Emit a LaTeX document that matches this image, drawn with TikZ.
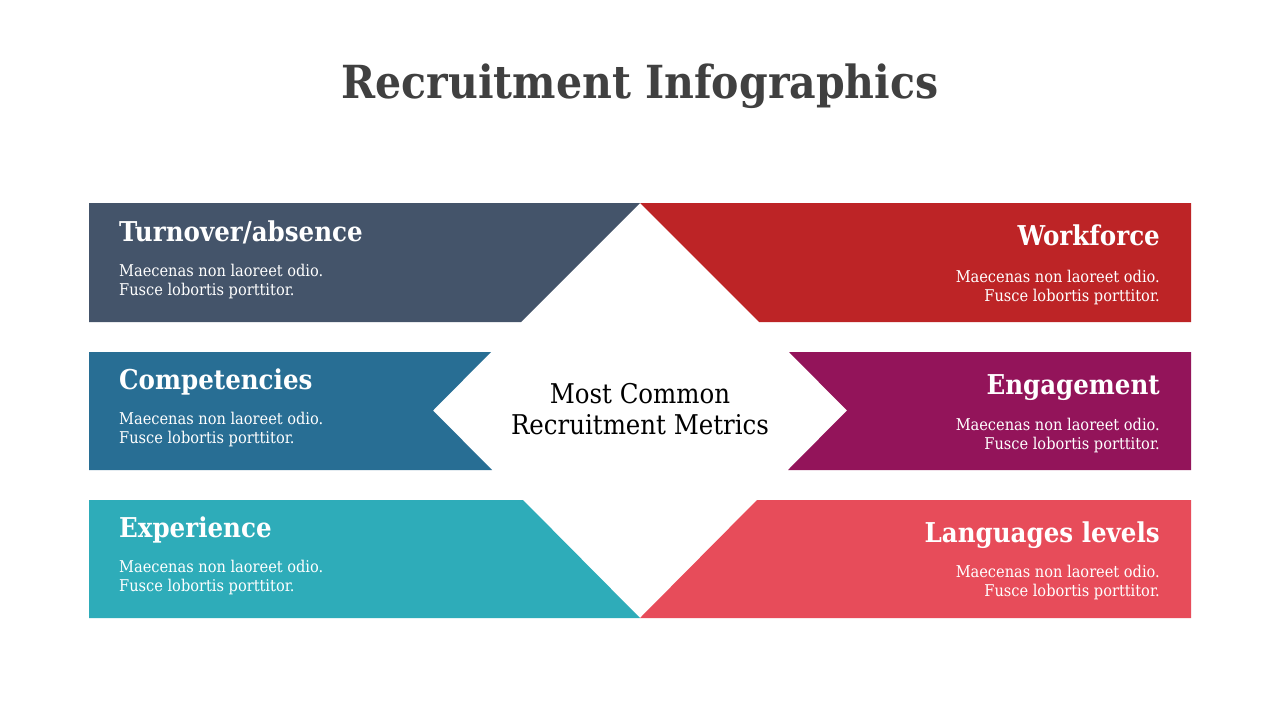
\documentclass[tikz,border=0pt]{standalone}
\usepackage{fontspec}
\setmainfont{DejaVu Serif Condensed}
\definecolor{cTL}{HTML}{44546A}
\definecolor{cTR}{HTML}{BD2426}
\definecolor{cML}{HTML}{286E94}
\definecolor{cMR}{HTML}{93145A}
\definecolor{cBL}{HTML}{2EACB9}
\definecolor{cBR}{HTML}{E74C5A}
\definecolor{ctitle}{HTML}{404040}
\begin{document}
\begin{tikzpicture}[x=1pt,y=-1pt,
  headL/.style={anchor=base west,inner sep=0pt,text=white,font=\fontsize{27.3}{30}\selectfont\bfseries},
  headR/.style={anchor=base east,inner sep=0pt,text=white,font=\fontsize{27.3}{30}\selectfont\bfseries},
  bodyL/.style={anchor=base west,inner sep=0pt,text=white,font=\fontsize{16.2}{19}\selectfont},
  bodyR/.style={anchor=base east,inner sep=0pt,text=white,font=\fontsize{16.2}{19}\selectfont},
  center/.style={anchor=base,inner sep=0pt,font=\fontsize{27.2}{30}\selectfont}]
\useasboundingbox[fill=white] (0,0) rectangle (1280,720);
% shapes
\fill[cTL] (89,203) -- (640,203) -- (521,322) -- (89,322) -- cycle;
\fill[cTR] (640,203) -- (1191,203) -- (1191,322) -- (759,322) -- cycle;
\fill[cML] (89,352) -- (491,352) -- (433,410.5) -- (492,470) -- (89,470) -- cycle;
\fill[cMR] (789,352) -- (1191,352) -- (1191,470) -- (788,470) -- (847,410.5) -- cycle;
\fill[cBL] (89,500) -- (523,500) -- (640,618) -- (89,618) -- cycle;
\fill[cBR] (757,500) -- (1191,500) -- (1191,618) -- (640,618) -- cycle;
% title
\node[anchor=base,inner sep=0pt,text=ctitle,font=\fontsize{45.6}{50}\selectfont\bfseries] (title) at (640,98) {Recruitment Infographics};
% center
\node[center] (c1) at (640,403) {Most Common};
\node[center] (c2) at (640,434) {Recruitment Metrics};
% TL
\node[headL] (h1) at (119,241) {Turnover/absence};
\node[bodyL] (b1a) at (119,276) {Maecenas non laoreet odio.};
\node[bodyL] (b1b) at (119,295) {Fusce lobortis porttitor.};
% TR
\node[headR] (h2) at (1160,245) {Workforce};
\node[bodyR] (b2a) at (1160,282) {Maecenas non laoreet odio.};
\node[bodyR] (b2b) at (1160,301) {Fusce lobortis porttitor.};
% ML
\node[headL] (h3) at (119,389) {Competencies};
\node[bodyL] (b3a) at (119,424) {Maecenas non laoreet odio.};
\node[bodyL] (b3b) at (119,443) {Fusce lobortis porttitor.};
% MR
\node[headR] (h4) at (1160,394) {Engagement};
\node[bodyR] (b4a) at (1160,430) {Maecenas non laoreet odio.};
\node[bodyR] (b4b) at (1160,449) {Fusce lobortis porttitor.};
% BL
\node[headL] (h5) at (119,537) {Experience};
\node[bodyL] (b5a) at (119,572) {Maecenas non laoreet odio.};
\node[bodyL] (b5b) at (119,591) {Fusce lobortis porttitor.};
% BR
\node[headR] (h6) at (1160,542) {Languages levels};
\node[bodyR] (b6a) at (1160,577) {Maecenas non laoreet odio.};
\node[bodyR] (b6b) at (1160,596) {Fusce lobortis porttitor.};
\end{tikzpicture}
\end{document}
